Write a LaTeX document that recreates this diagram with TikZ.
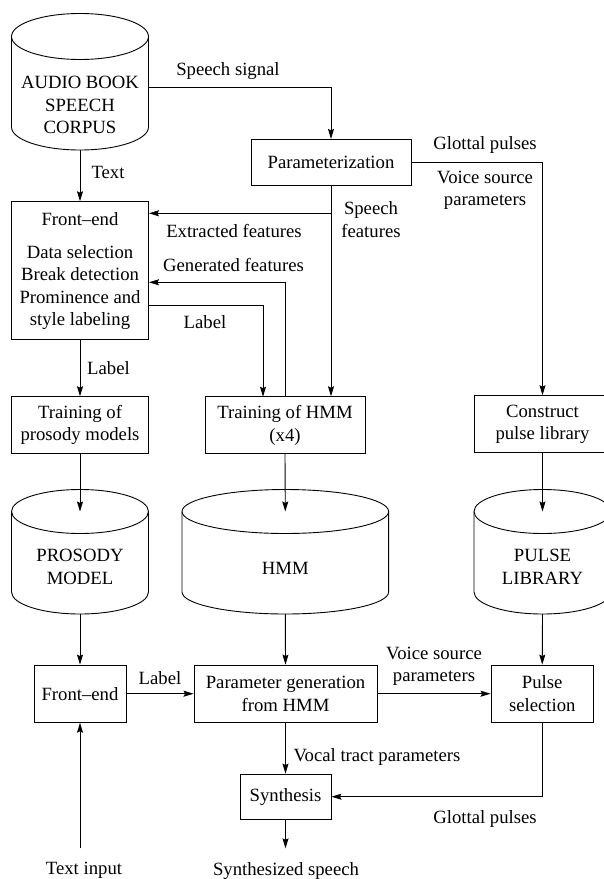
\documentclass[tikz,border=0pt]{standalone}
\usepackage{fontspec}
\setmainfont{Liberation Serif}
\usetikzlibrary{arrows.meta}
\newcommand{\mycyl}[5]{% cx, yt, yb, rx, ry
  \draw (#1-#4,#2) -- (#1-#4,#3) arc[start angle=180,end angle=0,x radius=#4,y radius=#5] -- (#1+#4,#2);
  \draw (#1,#2) ellipse[x radius=#4,y radius=#5];
}
\begin{document}
\begin{tikzpicture}[x=1pt,y=-1pt,line width=0.9pt,
  font=\fontsize{18.7}{22.4}\selectfont,
  >={Stealth[length=10pt,width=6pt,inset=1.5pt]},
  box/.style={draw,rectangle,align=center,inner sep=0pt},
  lbl/.style={align=center,inner sep=0pt},
  cyltext/.style={align=center,inner sep=0pt}]
\useasboundingbox (0,0) rectangle (604,879);
\clip (0,0) rectangle (604,879);
\fill[white] (0,0) rectangle (604,879);

% cylinders
\mycyl{80}{36.5}{127}{68.5}{23}
\coordinate (audb) at (80,150);
\coordinate (audr) at (148.5,87.7);
\node[cyltext] (aud) at (80,105) {AUDIO BOOK\\SPEECH\\CORPUS};

\mycyl{80}{511.5}{592}{68.5}{22}
\coordinate (pros) at (80,511.5);
\coordinate (prosb) at (80,614);
\node[cyltext] (prost) at (80,567) {PROSODY\\MODEL};

\mycyl{285.3}{511.5}{592}{103.3}{22}
\coordinate (hmm) at (285.3,511.5);
\coordinate (hmmb) at (285.3,614);
\node[cyltext] (hmmt) at (285.3,568.3) {HMM};

\mycyl{542.5}{511.5}{592}{68.5}{22}
\coordinate (pul) at (542.5,511.5);
\coordinate (pulb) at (542.5,614);
\node[cyltext] (pult) at (542.5,567) {PULSE\\LIBRARY};

% boxes
\node[box,minimum width=160pt,minimum height=45.7pt] (param) at (331,162.2) {Parameterization};
\node[box,minimum width=137pt,minimum height=137.6pt] (fe1) at (80,270.5) {};
\node[lbl] (fe1a) at (80,219) {Front–end};
\node[lbl] (fe1b) at (80,287.5) {Data selection\\Break detection\\Prominence and\\style labeling};
\node[box,minimum width=137pt,minimum height=57pt] (tpros) at (80,425.2) {Training of\\prosody models};
\node[box,minimum width=160pt,minimum height=57pt] (thmm) at (285,425.2) {Training of HMM\\(x4)};
\node[box,minimum width=137pt,minimum height=57pt] (cpl) at (542.5,424.2) {Construct\\pulse library};
\node[box,minimum width=92pt,minimum height=57.3pt] (fe2) at (80,693.7) {Front–end};
\node[box,minimum width=183pt,minimum height=57.3pt] (pgen) at (285.5,693.7) {Parameter generation\\from HMM};
\node[box,minimum width=102.5pt,minimum height=57.3pt] (psel) at (542.25,693.7) {Pulse\\selection};
\node[box,minimum width=91pt,minimum height=45.3pt] (synth) at (285.5,796.7) {Synthesis};

% connectors
\draw[->] (audb) -- (fe1.north);
\draw[->] (audr) -| (param.north);
\draw[->] (param.east) -| (cpl.north);
\draw[->] (param.south) -- (param.south |- thmm.north);
\draw[->] (param.south |- 0,213.3) -- (fe1.east |- 0,213.3);
\draw[->] (thmm.north) -- (285,282.3) -- (fe1.east |- 0,282.3);
\draw[->] (fe1.east |- 0,305) -- (263,305) -- (263,396.7);
\draw[->] (fe1.south) -- (tpros.north);
\draw[->] (tpros.south) -- (pros);
\draw[->] (thmm.south) -- (hmm);
\draw[->] (cpl.south) -- (pul);
\draw[->] (prosb) -- (fe2.north);
\draw[->] (hmmb) -- (pgen.north);
\draw[->] (pulb) -- (psel.north);
\draw[->] (fe2.east) -- (pgen.west);
\draw[->] (pgen.east) -- (psel.west);
\draw[->] (pgen.south) -- (synth.north);
\draw[->] (psel.south) |- (synth.east);
\coordinate (out) at (285.5,848.3);
\coordinate (in) at (80,848.3);
\draw[->] (synth.south) -- (out);
\draw[->] (in) -- (fe2.south);

% labels
\node[lbl] (l1) at (228,71) {Speech signal};
\node[lbl] (l2) at (485,145) {Glottal pulses};
\node[lbl] (l3) at (485,190.5) {Voice source\\parameters};
\node[lbl] (l4) at (108,172.7) {Text};
\node[lbl] (l5) at (234,230.7) {Extracted features};
\node[lbl] (l6) at (371,219.5) {Speech\\features};
\node[lbl] (l7) at (233.5,265) {Generated features};
\node[lbl] (l8) at (205,321.7) {Label};
\node[lbl] (l9) at (108.5,368.3) {Label};
\node[lbl] (l10) at (160,677.7) {Label};
\node[lbl] (l11) at (434,666) {Voice source\\parameters};
\node[lbl] (l12) at (377,756.7) {Vocal tract parameters};
\node[lbl] (l13) at (485,819.3) {Glottal pulses};
\node[lbl] (l14) at (84,870.7) {Text input};
\node[lbl] (l15) at (286,870.7) {Synthesized speech};
\end{tikzpicture}
\end{document}
